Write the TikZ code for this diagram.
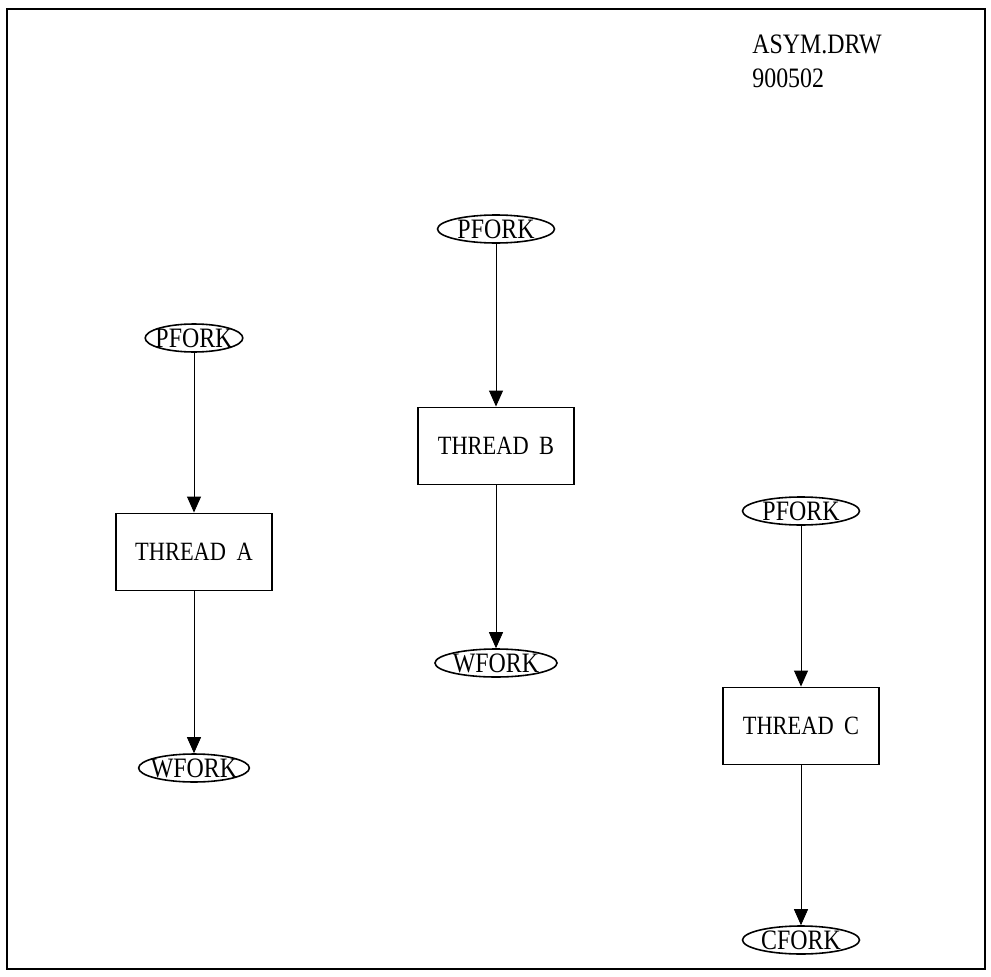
\documentclass[tikz,border=0pt]{standalone}
\usepackage{fontspec}
\newfontfamily\plotfont[FakeStretch=0.85]{Liberation Serif}
\usetikzlibrary{arrows.meta, shapes.geometric}

\begin{document}
\begin{tikzpicture}[
    x=0.02cm, y=-0.02cm,
    >={Triangle[length=0.32cm, width=0.28cm]},
    thread/.style={draw, line width=0.8pt, minimum width=3.12cm, minimum height=1.55cm, font=\plotfont\fontsize{15}{17}\selectfont},
    fork/.style={draw, ellipse, line width=0.9pt, minimum width=2.34cm, minimum height=0.56cm, inner sep=0pt, font=\plotfont\fontsize{16}{18}\selectfont},
    narrowfork/.style={fork, minimum width=1.9cm, inner xsep=-0.08cm},
    flow/.style={->, line width=0.5pt},
]
    \useasboundingbox (0,0) rectangle (991,977);

    % Frame
    \draw[line width=1.3pt] (7,9) rectangle (985,969);

    % Drawing id
    \node[anchor=north west, align=left, inner sep=0pt, font=\plotfont\fontsize{16}{19}\selectfont] (title) at (752,35) {ASYM.DRW\\900502};

    % Thread A
    \node[narrowfork] (pA) at (194,338) {PFORK};
    \node[thread] (tA) at (194,552) {THREAD\hspace{0.4em}A};
    \node[narrowfork] (wA) at (194,768) {WFORK};

    % Thread B
    \node[fork] (pB) at (496,229) {PFORK};
    \node[thread] (tB) at (496,446) {THREAD\hspace{0.4em}B};
    \node[fork] (wB) at (496,663) {WFORK};

    % Thread C
    \node[fork] (pC) at (801,511) {PFORK};
    \node[thread] (tC) at (801,726) {THREAD\hspace{0.4em}C};
    \node[fork] (cC) at (801,940) {CFORK};

    % Flow
    \draw[flow] (pA) -- (tA);
    \draw[flow] (tA) -- (wA);
    \draw[flow] (pB) -- (tB);
    \draw[flow] (tB) -- (wB);
    \draw[flow] (pC) -- (tC);
    \draw[flow] (tC) -- (cC);
\end{tikzpicture}
\end{document}
